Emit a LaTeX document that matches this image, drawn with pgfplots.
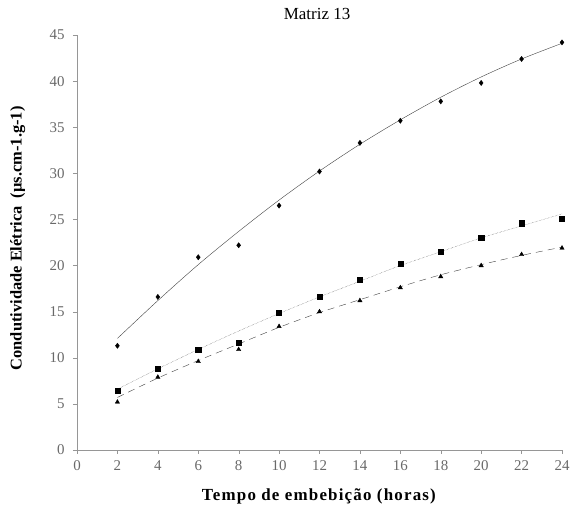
\documentclass[border=0pt]{standalone}
\usepackage{pgfplots}
\pgfplotsset{compat=1.18}
\usepackage{fontspec}
\setmainfont{Liberation Serif}

\definecolor{axgray}{RGB}{150,150,150}
\definecolor{lblgray}{RGB}{105,105,105}

\begin{document}
\begin{tikzpicture}
\useasboundingbox (0,0) rectangle (572bp,515bp);
\begin{axis}[
  at={(77bp,65bp)}, anchor=south west,
  scale only axis, width=485bp, height=415bp,
  xmin=0, xmax=24, ymin=0, ymax=45,
  xtick={0,2,...,24}, ytick={0,5,...,45},
  axis lines=left,
  axis line style={draw=axgray, -},
  tick style={draw=axgray},
  tick align=outside,
  major tick length=4bp,
  /pgf/number format/assume math mode=true,
  ticklabel style={font=\fontsize{15}{17}\selectfont, text=lblgray},
  xticklabel style={yshift=-3bp},
  yticklabel style={xshift=-5bp},
  title={Matriz 13},
  title style={font=\fontsize{17}{19}\selectfont, at={(axis description cs:0.495,1.036)}, anchor=center},
  xlabel={\textbf{Tempo de embebição (horas)}},
  xlabel style={font=\fontsize{17}{19}\selectfont\addfontfeatures{LetterSpace=7}, at={(axis description cs:0.5,-0.113)}, anchor=center},
  ylabel={\textbf{Condutividade Elétrica\ \ (µs.cm-1.g-1)}},
  ylabel style={font=\fontsize{16.5}{19}\selectfont, at={(axis description cs:-0.122,0.51)}, anchor=center},
  clip=false,
]
% trendlines
\addplot[draw=black!75, thin, smooth] coordinates {
 (2,12.1) (4,16.2) (6,20.1) (8,23.7) (10,27.1) (12,30.25) (14,33.15)
 (16,35.8) (18,38.25) (20,40.45) (22,42.4) (24,44.1)};
\addplot[draw=black!70, thin, densely dotted, smooth] coordinates {
 (2,6.6) (4,8.8) (6,10.9) (8,12.9) (10,14.8) (12,16.6) (14,18.3)
 (16,20.0) (18,21.5) (20,23.0) (22,24.3) (24,25.6)};
\addplot[draw=black!75, thin, dash pattern=on 7bp off 5bp, smooth] coordinates {
 (2,5.7) (4,7.8) (6,9.7) (8,11.5) (10,13.3) (12,14.9) (14,16.3)
 (16,17.7) (18,19.0) (20,20.1) (22,21.1) (24,22.0)};
% data points
\addplot[only marks, mark=diamond*, mark size=2.6bp, black] coordinates {
 (2,11.3) (4,16.6) (6,20.9) (8,22.2) (10,26.5) (12,30.2) (14,33.3)
 (16,35.7) (18,37.8) (20,39.8) (22,42.4) (24,44.2)};
\addplot[only marks, mark=square*, mark size=2.6bp, black] coordinates {
 (2,6.4) (4,8.8) (6,10.9) (8,11.6) (10,14.9) (12,16.6) (14,18.5)
 (16,20.2) (18,21.5) (20,23.0) (22,24.6) (24,25.1)};
\addplot[only marks, mark=triangle*, mark size=2.5bp, black] coordinates {
 (2,5.2) (4,7.9) (6,9.6) (8,10.9) (10,13.4) (12,15.0) (14,16.2)
 (16,17.6) (18,18.8) (20,20.0) (22,21.2) (24,21.9)};
\end{axis}
\end{tikzpicture}
\end{document}
